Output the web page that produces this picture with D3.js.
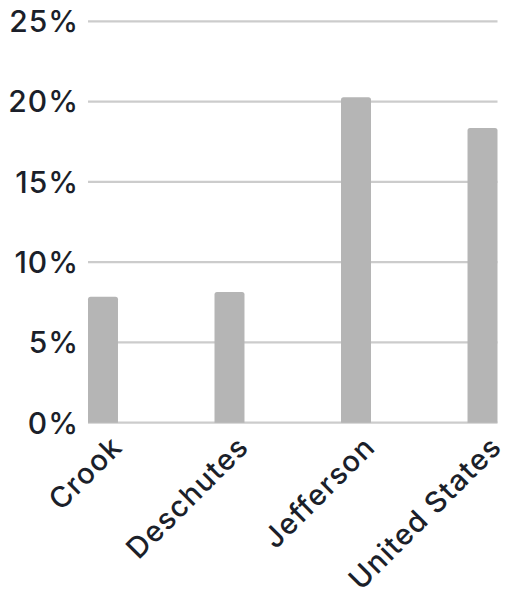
<!DOCTYPE html>
<html>
<head>
<meta charset="utf-8">
<script src="https://cdn.jsdelivr.net/npm/d3@7"></script>
<style>
  html, body { margin: 0; padding: 0; background: #fff; }
  svg text { font-family: "Inter", "Lato", sans-serif; font-weight: 500; fill: #1b1f2a; }
</style>
</head>
<body>
<svg id="chart" width="505" height="598"></svg>
<script>
// Share of population, by area (percent)
const areas = ["Crook", "Deschutes", "Jefferson", "United States"];
const shares = [7.85, 8.14, 20.27, 18.35];
const yTicks = [0, 5, 10, 15, 20, 25];

const svg = d3.select("#chart");
const plotLeft = 88, plotRight = 497.5, plotTop = 21.3, plotBottom = 422.7;

const x = d3.scaleBand()
  .domain(areas)
  .range([plotLeft, plotRight])
  .paddingInner(0.763)
  .paddingOuter(0);

const y = d3.scaleLinear().domain([0, 25]).range([plotBottom, plotTop]);

// horizontal gridlines
svg.append("g")
  .selectAll("line")
  .data(yTicks)
  .join("line")
  .attr("x1", plotLeft)
  .attr("x2", plotRight)
  .attr("y1", d => y(d))
  .attr("y2", d => y(d))
  .attr("stroke", "#cccccc")
  .attr("stroke-width", 2.2);

// y-axis labels
svg.append("g")
  .selectAll("text")
  .data(yTicks)
  .join("text")
  .attr("x", 79)
  .attr("y", d => y(d))
  .attr("dy", "0.36em")
  .attr("text-anchor", "end")
  .attr("font-size", 30)
  .attr("letter-spacing", 1)
  .text(d => d + "%");

// bars with slightly rounded tops
const r = 2.5;
svg.append("g")
  .selectAll("path")
  .data(areas)
  .join("path")
  .attr("fill", "#b5b5b5")
  .attr("d", (d, i) => {
    const x0 = x(d), w = x.bandwidth(), y0 = y(shares[i]), y1 = y(0);
    return `M${x0},${y1}V${y0 + r}Q${x0},${y0} ${x0 + r},${y0}H${x0 + w - r}Q${x0 + w},${y0} ${x0 + w},${y0 + r}V${y1}Z`;
  });

// rotated category labels
svg.append("g")
  .selectAll("text")
  .data(areas)
  .join("text")
  .attr("text-anchor", "end")
  .attr("font-size", 29)
  .attr("letter-spacing", 1.2)
  .attr("transform", d => `translate(${x(d) + x.bandwidth() / 2 + 21},${plotBottom + 26}) rotate(-45)`)
  .text(d => d);
</script>
</body>
</html>
